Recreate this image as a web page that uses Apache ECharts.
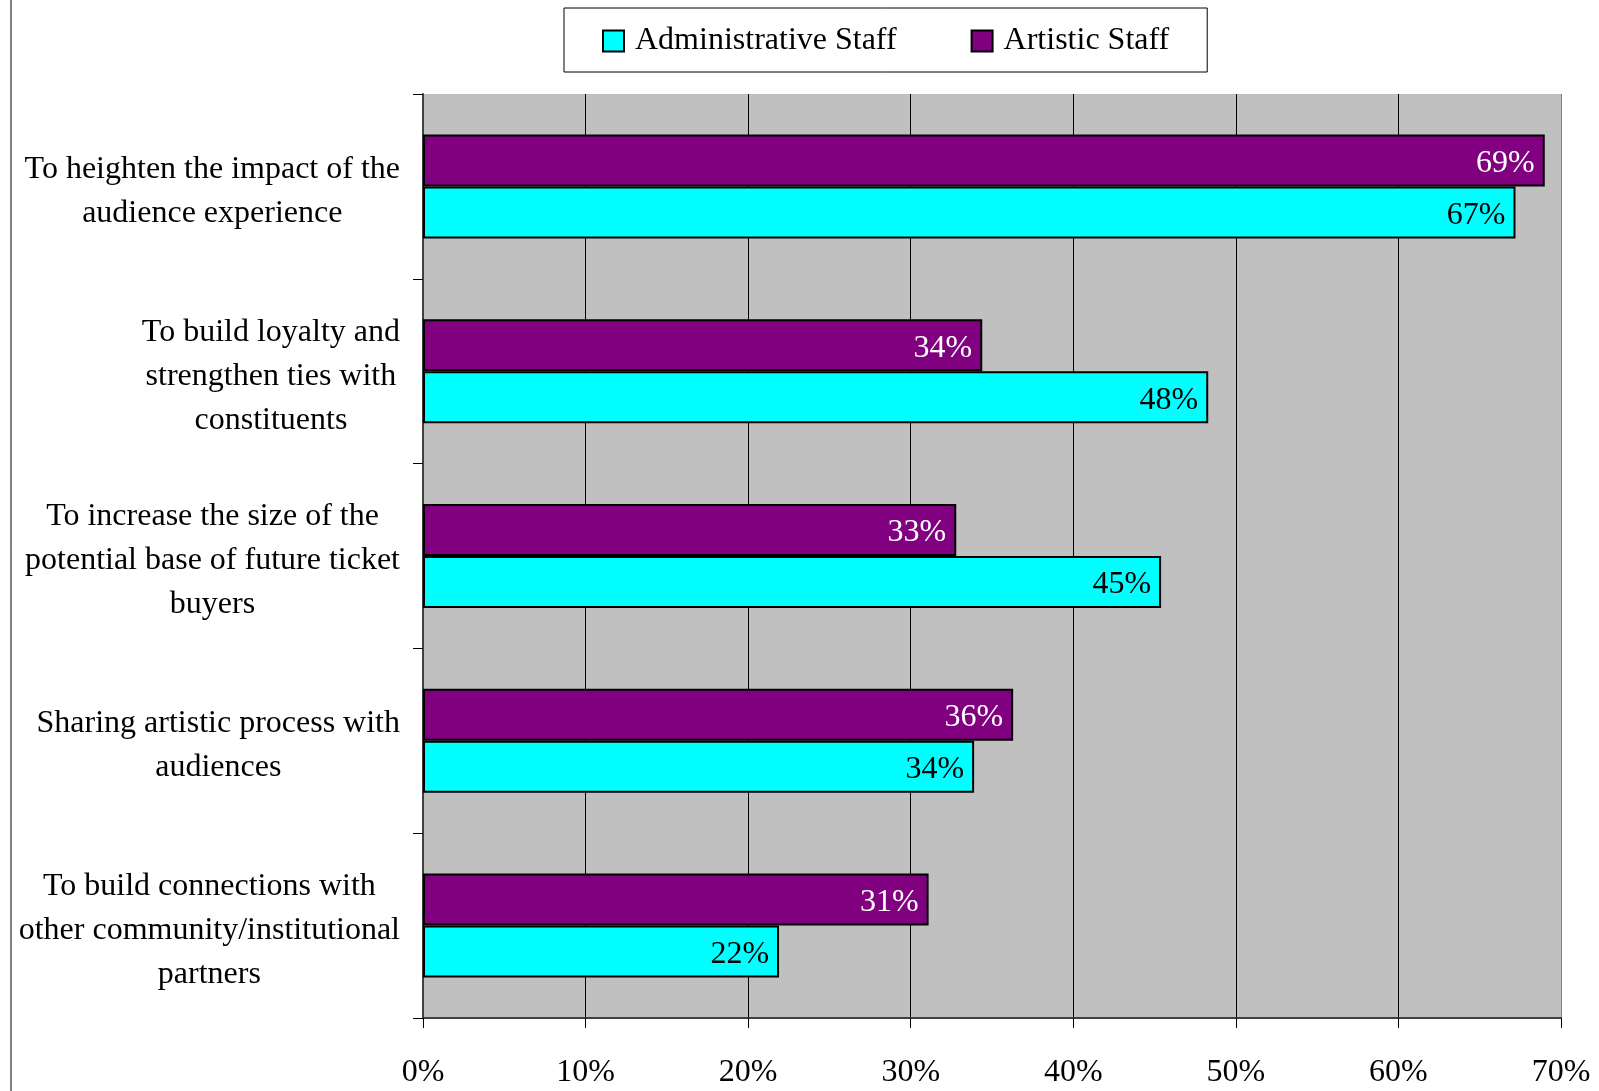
<!DOCTYPE html>
<html>
<head>
<meta charset="utf-8">
<script src="https://cdn.jsdelivr.net/npm/echarts@6/dist/echarts.min.js"></script>
<style>html,body{margin:0;padding:0;background:#fff;}#c{width:1599px;height:1091px;}</style>
</head>
<body>
<div id="c"></div>
<script>
const categories = [
  ['To heighten the impact of the', 'audience experience'],
  ['To build loyalty and', 'strengthen ties with', 'constituents'],
  ['To increase the size of the', 'potential base of future ticket', 'buyers'],
  ['Sharing artistic process with', 'audiences'],
  ['To build connections with', 'other community/institutional', 'partners']
];
const adminValues = [67.2, 48.3, 45.4, 33.9, 21.9];
const artisticValues = [69.0, 34.4, 32.8, 36.3, 31.1];
const xTicks = [0, 10, 20, 30, 40, 50, 60, 70];

const FONT = 'Liberation Serif';
const chart = echarts.init(document.getElementById('c'), null, {renderer: 'canvas'});
const catKeys = categories.map(c => c.join('\n'));

chart.setOption({
  animation: false,
  backgroundColor: '#fff',
  textStyle: {fontFamily: FONT},
  legend: {
    top: 8, left: 564,
    data: ['Administrative Staff', 'Artistic Staff'],
    backgroundColor: '#fff', borderColor: '#000', borderWidth: 1,
    padding: [17, 38, 15, 38],
    itemWidth: 21, itemHeight: 21, itemGap: 74,
    icon: 'rect',
    itemStyle: {borderColor: '#000', borderWidth: 2},
    textStyle: {fontFamily: FONT, fontSize: 32, color: '#000', padding: [5, 0, 0, 6]}
  },
  grid: {left: 423, right: 38, top: 94, bottom: 73, show: true, backgroundColor: '#C0C0C0', borderWidth: 0},
  graphic: [{type: 'line', shape: {x1: 11, y1: 0, x2: 11, y2: 1091}, style: {stroke: '#000', lineWidth: 1}}],
  xAxis: {
    type: 'value', min: xTicks[0], max: xTicks[xTicks.length - 1], interval: 10,
    axisLine: {show: true, lineStyle: {color: '#404040', width: 2}},
    axisTick: {show: true, length: 10, lineStyle: {color: '#000'}},
    axisLabel: {formatter: '{value}%', margin: 39, fontFamily: FONT, fontSize: 32, color: '#000'},
    splitLine: {show: true, lineStyle: {color: ['#000','#000','#000','#000','#000','#000','#000','#808080'], width: 1}}
  },
  yAxis: {
    type: 'category', inverse: true, data: catKeys,
    axisLine: {show: true, lineStyle: {color: '#404040', width: 2}},
    axisTick: {show: true, length: 10, lineStyle: {color: '#000'}},
    axisLabel: {
      margin: 23, align: 'right', color: '#000', fontFamily: FONT, fontSize: 32, lineHeight: 44,
      padding: [10, 0, 0, 0],
      formatter: v => v.split('\n').map(l => '{c|' + l + '}').join('\n'),
      rich: {c: {align: 'center', fontFamily: FONT, fontSize: 32, lineHeight: 44, color: '#000'}}
    }
  },
  series: [
    {
      name: 'Artistic Staff', type: 'bar', data: artisticValues,
      barWidth: 52, barGap: '0%', barCategoryGap: '43%',
      itemStyle: {color: '#800080', borderColor: '#000', borderWidth: 2},
      label: {show: true, position: 'insideRight', distance: 10, offset: [0, 3], formatter: p => Math.round(p.value) + '%',
        color: '#fff', fontFamily: FONT, fontSize: 32}
    },
    {
      name: 'Administrative Staff', type: 'bar', data: adminValues,
      barWidth: 52, barGap: '0%',
      itemStyle: {color: '#00FFFF', borderColor: '#000', borderWidth: 2},
      label: {show: true, position: 'insideRight', distance: 10, offset: [0, 3], formatter: p => Math.round(p.value) + '%',
        color: '#000', fontFamily: FONT, fontSize: 32}
    }
  ]
});
</script>
</body>
</html>
